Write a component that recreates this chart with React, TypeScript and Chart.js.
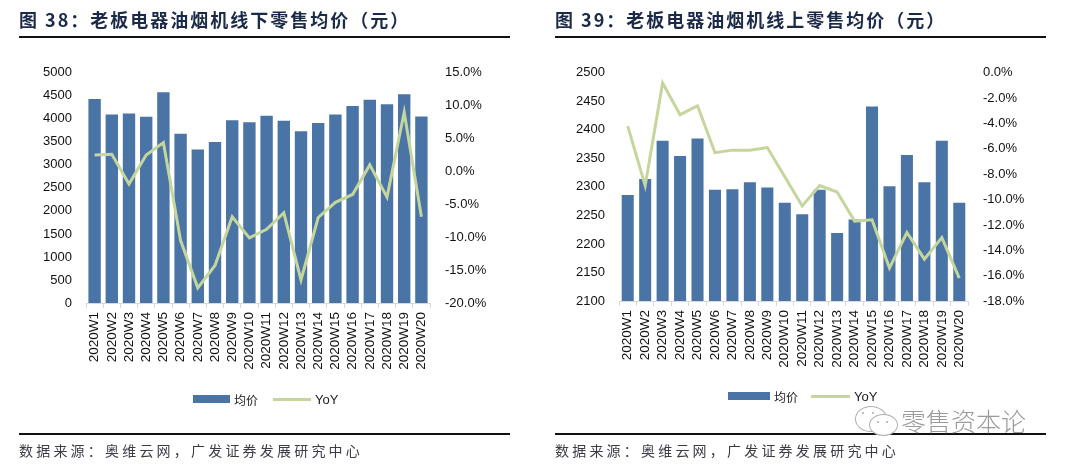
import React, { useEffect, useRef } from 'react';
import { Chart, registerables } from 'chart.js';

Chart.register(...registerables);

const weeks = [
  '2020W1', '2020W2', '2020W3', '2020W4', '2020W5', '2020W6', '2020W7', '2020W8', '2020W9', '2020W10',
  '2020W11', '2020W12', '2020W13', '2020W14', '2020W15', '2020W16', '2020W17', '2020W18', '2020W19', '2020W20',
];

// 图38 线下
const offlinePrice = [4430, 4096, 4117, 4045, 4580, 3675, 3333, 3498, 3968, 3925, 4066, 3960, 3733, 3910, 4096, 4280, 4416, 4316, 4536, 4053];
const offlineYoY = [2.5, 2.6, -1.9, 2.5, 4.4, -10.5, -17.7, -14.3, -6.9, -10.1, -8.8, -6.3, -16.5, -7.0, -4.7, -3.5, 1.0, -3.9, 9.0, -6.9];

// 图39 线上
const onlinePrice = [2286, 2314, 2381, 2354, 2385, 2295, 2296, 2308, 2299, 2272, 2252, 2295, 2219, 2243, 2441, 2301, 2356, 2308, 2381, 2272];
const onlineYoY = [-4.2, -8.9, -0.8, -3.3, -2.6, -6.3, -6.1, -6.1, -5.9, -8.2, -10.5, -8.9, -9.4, -11.7, -11.6, -15.4, -12.6, -14.7, -13.0, -16.2];

const offlineLeftRange = [0, 5000, 500];
const offlineRightRange = [-20, 15, 5];
const onlineLeftRange = [2100, 2500, 50];
const onlineRightRange = [-18, 0, 2];

const BAR_COLOR = '#4a74a6';
const LINE_COLOR = '#c4d69c';
const FONT = '"Liberation Sans", Arial, sans-serif';
const CJK = '"Noto Sans CJK SC", "Noto Sans", sans-serif';

type Geom = { leftW: number; rightW: number; padTop: number; xH: number; barPct: number };

function ComboChart(props: {
  prices: number[];
  yoy: number[];
  left: number[];
  right: number[];
  geom: Geom;
}) {
  const ref = useRef<HTMLCanvasElement | null>(null);
  useEffect(() => {
    if (!ref.current) return;
    const { prices, yoy, left, right, geom } = props;
    const chart = new Chart(ref.current, {
      type: 'bar',
      data: {
        labels: weeks,
        datasets: [
          {
            type: 'line',
            label: 'YoY',
            data: yoy,
            yAxisID: 'y1',
            borderColor: LINE_COLOR,
            backgroundColor: LINE_COLOR,
            borderWidth: 3,
            pointRadius: 0,
            tension: 0,
            order: 1,
          } as any,
          {
            type: 'bar',
            label: '均价',
            data: prices,
            yAxisID: 'y',
            backgroundColor: BAR_COLOR,
            borderWidth: 0,
            barPercentage: geom.barPct,
            categoryPercentage: 1,
            order: 2,
          } as any,
        ],
      },
      options: {
        responsive: false,
        maintainAspectRatio: false,
        animation: false,
        layout: { padding: { top: geom.padTop, left: 0, right: 0, bottom: 0 } },
        plugins: { legend: { display: false }, tooltip: { enabled: false } },
        scales: {
          x: {
            offset: true,
            grid: {
              display: true,
              offset: true,
              drawOnChartArea: false,
              drawTicks: true,
              tickLength: 5,
              color: '#d9d9d9',
            },
            border: { display: true, color: '#d9d9d9', width: 1 },
            ticks: {
              autoSkip: false,
              minRotation: 90,
              maxRotation: 90,
              padding: 4,
              color: '#111',
              font: { family: FONT, size: 13.5 },
            },
            afterFit: (s: any) => {
              s.height = geom.xH;
            },
          },
          y: {
            position: 'left',
            min: left[0],
            max: left[1],
            grid: { display: false, drawTicks: false },
            border: { display: false },
            ticks: {
              stepSize: left[2],
              padding: 14,
              color: '#111',
              font: { family: FONT, size: 13 },
              callback: (v: any) => String(Math.round(Number(v))),
            },
            afterFit: (s: any) => {
              s.width = geom.leftW;
            },
          },
          y1: {
            position: 'right',
            min: right[0],
            max: right[1],
            grid: { display: false, drawTicks: false },
            border: { display: false },
            ticks: {
              stepSize: right[2],
              padding: 15,
              color: '#111',
              font: { family: FONT, size: 13 },
              callback: (v: any) => Number(v).toFixed(1) + '%',
            },
            afterFit: (s: any) => {
              s.width = geom.rightW;
            },
          },
        },
      } as any,
    });
    return () => chart.destroy();
  }, []);
  return <canvas ref={ref} width={540} height={340} style={{ width: 540, height: 340, display: 'block' }} />;
}

function Legend(props: { x: number; y: number; barW: number; lineW: number; gap: number }) {
  const { x, y, barW, lineW, gap } = props;
  return (
    <div style={{ position: 'absolute', left: x, top: y - 10, height: 20, display: 'flex', alignItems: 'center' }}>
      <div style={{ width: barW, height: 8, background: BAR_COLOR }} />
      <span style={{ marginLeft: 4, fontFamily: CJK, fontSize: 12, color: '#222' }}>均价</span>
      <div style={{ width: lineW, height: 3, background: LINE_COLOR, marginLeft: gap }} />
      <span style={{ marginLeft: 4, fontFamily: FONT, fontSize: 13, color: '#222' }}>YoY</span>
    </div>
  );
}

function Panel(props: { x: number; title: string; children: any }) {
  const { x, title, children } = props;
  return (
    <div style={{ position: 'absolute', left: x, top: 0, width: 540, height: 469 }}>
      <div
        style={{
          position: 'absolute',
          left: 0,
          top: 7,
          whiteSpace: 'nowrap',
          fontFamily: CJK,
          fontWeight: 700,
          fontSize: 18,
          letterSpacing: 2,
          color: '#1c2a4a',
          lineHeight: '24px',
        }}
      >
        {title}
      </div>
      <div style={{ position: 'absolute', left: 0, top: 36, width: 491, height: 2, background: '#111' }} />
      <div style={{ position: 'absolute', left: 0, top: 433, width: 491, height: 2, background: '#111' }} />
      <div
        style={{
          position: 'absolute',
          left: 0,
          top: 440,
          whiteSpace: 'nowrap',
          fontFamily: CJK,
          fontSize: 14,
          letterSpacing: 3.2,
          color: '#3c3c48',
          lineHeight: '20px',
        }}
      >
        数据来源：奥维云网，广发证券发展研究中心
      </div>
      {children}
    </div>
  );
}

function Dot(props: { x: number; y: number }) {
  return <div style={{ position: 'absolute', left: props.x, top: props.y, width: 2, height: 2, borderRadius: 1, background: '#aaa' }} />;
}

export default function App() {
  return (
    <div style={{ position: 'fixed', left: 0, top: 0, width: 1080, height: 469, background: '#fff', overflow: 'hidden' }}>
      <div style={{ position: 'absolute', left: 0, top: 50 }}>
        <ComboChart
          prices={offlinePrice}
          yoy={offlineYoY}
          left={offlineLeftRange}
          right={offlineRightRange}
          geom={{ leftW: 86, rightW: 110, padTop: 19, xH: 87, barPct: 0.72 }}
        />
      </div>
      <div style={{ position: 'absolute', left: 540, top: 50 }}>
        <ComboChart
          prices={onlinePrice}
          yoy={onlineYoY}
          left={onlineLeftRange}
          right={onlineRightRange}
          geom={{ leftW: 79, rightW: 112, padTop: 16, xH: 89, barPct: 0.69 }}
        />
      </div>
      <Panel x={19} title="图 38：老板电器油烟机线下零售均价（元）">
        <Legend x={174} y={399} barW={37} lineW={38} gap={15} />
      </Panel>
      <Panel x={555} title="图 39：老板电器油烟机线上零售均价（元）">
        <Legend x={173} y={396} barW={42} lineW={39} gap={13} />
      </Panel>
      {/* watermark */}
      <div style={{ position: 'absolute', left: 855, top: 406, width: 30, height: 24, borderRadius: '50%', border: '1.2px solid #b0b0b0', background: '#fff' }} />
      <Dot x={862} y={412} />
      <Dot x={872} y={412} />
      <div style={{ position: 'absolute', left: 869, top: 414, width: 27, height: 20, borderRadius: '50%', border: '1.2px solid #b0b0b0', background: '#fff' }} />
      <Dot x={877} y={421} />
      <Dot x={886} y={421} />
      <div
        style={{
          position: 'absolute',
          left: 901,
          top: 404,
          whiteSpace: 'nowrap',
          fontFamily: CJK,
          fontWeight: 300,
          fontSize: 25,
          color: '#9a9a9a',
          lineHeight: '32px',
        }}
      >
        零售资本论
      </div>
    </div>
  );
}
